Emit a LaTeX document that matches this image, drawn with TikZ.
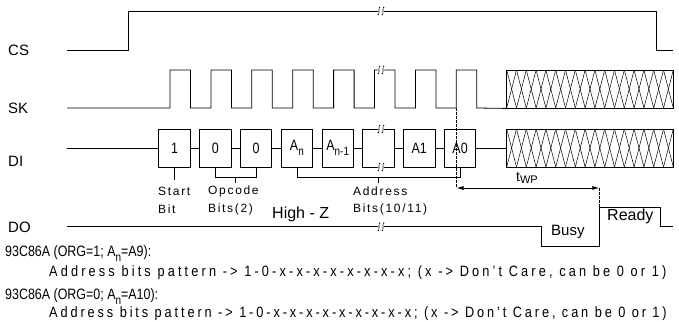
\documentclass[tikz,border=0pt]{standalone}
\usepackage{fontspec}
\usepackage{graphicx}
\setmainfont{Liberation Sans}
\newfontfamily\spacedfont[LetterSpace=14]{Liberation Sans}
\newfontfamily\narrowfont[FakeStretch=0.83]{Liberation Sans}
\newfontfamily\widefont[FakeStretch=0.85,LetterSpace=21]{Liberation Sans}
\newfontfamily\widerfont[FakeStretch=0.85,LetterSpace=19.3]{Liberation Sans}
\usetikzlibrary{arrows.meta}
\newcommand\fsz[1]{\fontsize{#1bp}{#1bp}\selectfont}
\newcommand\sub[1]{\raisebox{-0.32em}{\scalebox{0.8}{#1}}}
\tikzset{
  sig/.style={line width=0.8bp},
  bitbox/.style={draw, line width=0.8bp, minimum width=31.4bp, minimum height=38bp, inner sep=0pt, font=\narrowfont\fsz{15}},
  hatchbox/.style={draw, line width=0.8bp, minimum width=166.6bp, minimum height=38bp, inner sep=0pt},
  lab/.style={anchor=west, inner sep=0pt, font=\fsz{15}},
  note/.style={anchor=west, inner sep=0pt, font=\spacedfont\fsz{12}},
  txt/.style={anchor=base west, inner sep=0pt, font=\narrowfont\fsz{15}},
  pics/brk/.style={code={
    \fill[white] (-3.4,-1.3) rectangle (3.4,1.3);
    \draw[line width=0.6bp] (-0.6,-3.6) .. controls (-2.2,-5.2) and (-2,-1.2) .. (-2,0) .. controls (-2,1.2) and (-1.8,5.2) .. (-3.4,3.6);
    \draw[line width=0.6bp] (3.4,-3.6) .. controls (1.8,-5.2) and (2,-1.2) .. (2,0) .. controls (2,1.2) and (2.2,5.2) .. (0.6,3.6);
  }}
}
\begin{document}
\begin{tikzpicture}[x=1bp,y=-1bp]
\useasboundingbox (0,0) rectangle (679,321);
% labels
\node[lab] (lcs) at (8,50.5) {CS};
\node[lab] (lsk) at (8,108) {SK};
\node[lab] (ldi) at (8,161) {DI};
\node[lab] (ldo) at (8,227) {DO};
% CS
\draw[sig] (67,50) -- (128,50) -- (128,11) -- (656,11) -- (656,50) -- (673,50);
\pic at (381,11) {brk};
% SK
\node[hatchbox] (hs) at (590,89) {};
\draw[sig] (67,108) \foreach \i in {0,...,7} { -- ({170+40.9*\i},108) -- ({170+40.9*\i},70) -- ({190.5+40.9*\i},70) -- ({190.5+40.9*\i},108) } -- (hs.south west);
\pic at (381,70) {brk};
\foreach \i in {0,...,16} {
  \draw[line width=0.5bp] ({506.7+9.8*\i},70) -- ({516.5+9.8*\i},108);
  \draw[line width=0.5bp] ({506.7+9.8*\i},108) -- ({516.5+9.8*\i},70);
}
% DI
\coordinate (di0) at (67,148);
\node[bitbox] (b1) at (174.5,148) {1};
\node[bitbox] (b2) at (215.3,148) {0};
\node[bitbox] (b3) at (256.1,148) {0};
\node[bitbox] (b4) at (296.9,148) {A\sub{n}};
\node[bitbox] (b5) at (337.7,148) {A\sub{n-1}};
\node[bitbox] (b6) at (378.5,148) {};
\node[bitbox] (b7) at (419.3,148) {A1};
\node[bitbox] (b8) at (460.1,148) {A0};
\node[hatchbox] (hd) at (590,148) {};
\draw[sig] (di0) -- (b1.west);
\draw[sig] (b1.east) -- (b2.west);
\draw[sig] (b2.east) -- (b3.west);
\draw[sig] (b3.east) -- (b4.west);
\draw[sig] (b4.east) -- (b5.west);
\draw[sig] (b5.east) -- (b6.west);
\draw[sig] (b6.east) -- (b7.west);
\draw[sig] (b7.east) -- (b8.west);
\draw[sig] (b8.east) -- (hd.west);
\pic at (381,129) {brk};
\pic at (381,167) {brk};
\foreach \i in {0,...,16} {
  \draw[line width=0.5bp] ({506.7+9.8*\i},129) -- ({516.5+9.8*\i},167);
  \draw[line width=0.5bp] ({506.7+9.8*\i},167) -- ({516.5+9.8*\i},129);
}
% brackets
\draw[sig] (b1.south) -- ++(0,13);
\draw[sig] (b2.south) -- ++(0,10) -| (b3.south);
\draw[sig] (235.7,177) -- (235.7,183);
\draw[sig] (b4.south) -- ++(0,10) -| (b8.south);
\draw[sig] (378.5,177) -- (378.5,183);
\node[note] (n1) at (158,191.5) {Start};
\node[note] (n2) at (158,209) {Bit};
\node[note] (n3) at (208,191.5) {Opcode};
\node[note] (n4) at (208,209) {Bits(2)};
\node[note] (n5) at (353,191.5) {Address};
\node[note] (n6) at (353,209) {Bits(10/11)};
% DO
\draw[sig] (67,226.7) -- (541.7,226.7) -- (541.7,246.7) -- (599.3,246.7) -- (599.3,207.3) -- (660.7,207.3) -- (660.7,226.7) -- (673,226.7);
\pic at (381,226.7) {brk};
\node[lab, font=\fsz{16}] (hz) at (272,214) {High - Z};
\node[lab] (busy) at (551,232) {Busy};
\node[lab, font=\fsz{16}] (ready) at (607,216.5) {Ready};
% tWP
\coordinate (t0) at (456.5,108);
\coordinate (t1) at (456.5,188);
\coordinate (t2) at (599.3,188);
\coordinate (t3) at (599.3,207.3);
\draw[sig, dash pattern=on 2.5bp off 1.5bp] (t0) -- (t1);
\draw[sig, dash pattern=on 2.5bp off 1.5bp] (t2) -- (t3);
\draw[sig, {Latex[length=7bp,width=4bp]}-{Latex[length=7bp,width=4bp]}] (t1) -- (t2);
\node[anchor=base west, inner sep=0pt, font=\fsz{14}] (twp) at (516,181) {t\raisebox{-0.15em}{\fsz{11}WP}};
% bottom text
\node[txt] (l1) at (5,256.5) {93C86A (ORG=1; A\sub{n}=A9):};
\node[txt, font=\widefont\fsz{15}] (l2) at (49,276.5) {Address bits pattern -> 1-0-x-x-x-x-x-x-x-x; (x -> Don’t Care, can be 0 or 1)};
\node[txt] (l3) at (5,299.5) {93C86A (ORG=0; A\sub{n}=A10):};
\node[txt, font=\widerfont\fsz{15}] (l4) at (49,317.5) {Address bits pattern -> 1-0-x-x-x-x-x-x-x-x-x; (x -> Don’t Care, can be 0 or 1)};
\end{tikzpicture}
\end{document}
